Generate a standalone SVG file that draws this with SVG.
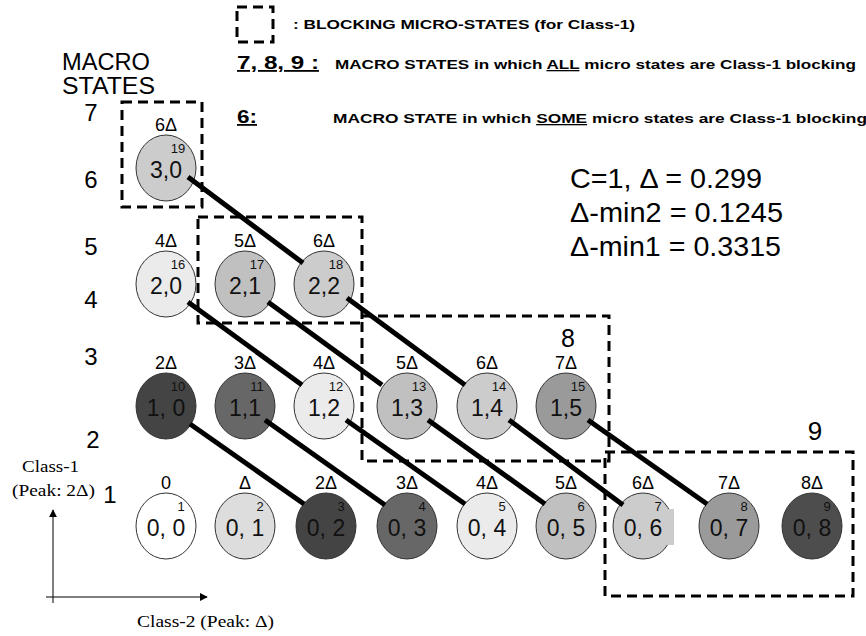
<svg xmlns="http://www.w3.org/2000/svg" width="866" height="636" viewBox="0 0 866 636">
<defs>
<style>
.n{stroke:#333;stroke-width:1}
.t{font-family:"Liberation Sans",Arial,sans-serif;font-size:23px;text-anchor:middle;fill:#111}
.k{font-family:"Liberation Sans",Arial,sans-serif;font-size:13px;text-anchor:middle;fill:#111}
.d{font-family:"Liberation Sans",Arial,sans-serif;font-size:18px;text-anchor:middle;fill:#000}
.r{font-family:"Liberation Sans",Arial,sans-serif;font-size:24px;text-anchor:middle;fill:#000}
.b{font-family:"Liberation Sans",Arial,sans-serif;font-size:13px;font-weight:bold;fill:#000}
.m{font-family:"Liberation Sans",Arial,sans-serif;font-size:28px;fill:#000}
.s{font-family:"Liberation Serif","Times New Roman",serif;font-size:16.5px;fill:#000}
.box{fill:none;stroke:#000;stroke-width:3;stroke-dasharray:10 6}
.c{stroke:#000;stroke-width:5;stroke-linecap:butt}
.ax{stroke:#000;stroke-width:1}
</style>
<marker id="ah" viewBox="0 0 10 10" refX="9" refY="5" markerWidth="8" markerHeight="8" markerUnits="userSpaceOnUse" orient="auto">
<path d="M0,0 L10,5 L0,10 z" fill="#000"/>
</marker>
</defs>
<rect width="866" height="636" fill="#fff"/>

<g id="legend">
<rect class="box" x="237" y="7" width="36" height="35"/>
<text class="b" x="293" y="29" textLength="342" lengthAdjust="spacingAndGlyphs">: BLOCKING MICRO-STATES (for Class-1)</text>
<text class="b" x="237" y="69" style="font-size:18px" textLength="82" lengthAdjust="spacingAndGlyphs" text-decoration="underline">7, 8, 9 :</text>
<text class="b" x="335" y="69" textLength="521" lengthAdjust="spacingAndGlyphs">MACRO STATES in which <tspan text-decoration="underline">ALL</tspan> micro states are Class-1 blocking</text>
<text class="b" x="237" y="123" style="font-size:18px" textLength="20" lengthAdjust="spacingAndGlyphs" text-decoration="underline">6:</text>
<text class="b" x="333" y="123" textLength="534" lengthAdjust="spacingAndGlyphs">MACRO STATE in which <tspan text-decoration="underline">SOME</tspan> micro states are Class-1 blocking</text>
</g>

<g id="params">
<text class="m" x="570" y="188" textLength="192" lengthAdjust="spacingAndGlyphs">C=1, Δ = 0.299</text>
<text class="m" x="570" y="222" textLength="213" lengthAdjust="spacingAndGlyphs">Δ-min2 = 0.1245</text>
<text class="m" x="570" y="256" textLength="211" lengthAdjust="spacingAndGlyphs">Δ-min1 = 0.3315</text>
</g>

<g id="macro-axis">
<text class="r" x="62" y="70" style="font-size:23px;text-anchor:start" textLength="88" lengthAdjust="spacingAndGlyphs">MACRO</text>
<text class="r" x="62" y="94" style="font-size:23px;text-anchor:start" textLength="93" lengthAdjust="spacingAndGlyphs">STATES</text>
<text class="r" x="91" y="121">7</text>
<text class="r" x="91" y="188">6</text>
<text class="r" x="91" y="255">5</text>
<text class="r" x="91" y="308">4</text>
<text class="r" x="91" y="365">3</text>
<text class="r" x="93" y="448">2</text>
<text class="r" x="110" y="503">1</text>
</g>

<g id="blocking-boxes">
<rect class="box" x="122" y="102" width="80" height="105"/>
<rect class="box" x="198" y="217" width="164" height="106"/>
<rect class="box" x="362" y="316" width="247" height="145"/>
<rect class="box" x="605" y="452" width="248" height="144"/>
<text class="r" x="568" y="347" style="font-size:25px">8</text>
<text class="r" x="815" y="440" style="font-size:26px">9</text>
</g>

<g id="n19"><ellipse class="n" cx="166" cy="168" rx="30" ry="33" fill="#cccccc"/><text class="d" x="166" y="131">6Δ</text><text class="k" x="178" y="153">19</text><text class="t" x="166" y="178">3,0</text></g>

<g id="n16"><ellipse class="n" cx="166" cy="284" rx="30" ry="33" fill="#ebebeb"/><text class="d" x="166" y="247">4Δ</text><text class="k" x="178" y="269">16</text><text class="t" x="166" y="294">2,0</text></g>
<g id="n17"><ellipse class="n" cx="245" cy="284" rx="30" ry="33" fill="#c0c0c0"/><text class="d" x="245" y="247">5Δ</text><text class="k" x="257" y="269">17</text><text class="t" x="245" y="294">2,1</text></g>
<g id="n18"><ellipse class="n" cx="324" cy="284" rx="30" ry="33" fill="#cccccc"/><text class="d" x="324" y="247">6Δ</text><text class="k" x="336" y="269">18</text><text class="t" x="324" y="294">2,2</text></g>

<g id="n10"><ellipse class="n" cx="166" cy="406" rx="30" ry="33" fill="#444444"/><text class="d" x="166" y="369">2Δ</text><text class="k" x="178" y="391">10</text><text class="t" x="166" y="416">1, 0</text></g>
<g id="n11"><ellipse class="n" cx="245" cy="406" rx="30" ry="33" fill="#676767"/><text class="d" x="245" y="369">3Δ</text><text class="k" x="257" y="391">11</text><text class="t" x="245" y="416">1,1</text></g>
<g id="n12"><ellipse class="n" cx="324" cy="406" rx="30" ry="33" fill="#ebebeb"/><text class="d" x="324" y="369">4Δ</text><text class="k" x="336" y="391">12</text><text class="t" x="324" y="416">1,2</text></g>
<g id="n13"><ellipse class="n" cx="407" cy="406" rx="30" ry="33" fill="#c0c0c0"/><text class="d" x="407" y="369">5Δ</text><text class="k" x="419" y="391">13</text><text class="t" x="407" y="416">1,3</text></g>
<g id="n14"><ellipse class="n" cx="487" cy="406" rx="30" ry="33" fill="#cccccc"/><text class="d" x="487" y="369">6Δ</text><text class="k" x="499" y="391">14</text><text class="t" x="487" y="416">1,4</text></g>
<g id="n15"><ellipse class="n" cx="566" cy="406" rx="30" ry="33" fill="#9a9a9a"/><text class="d" x="566" y="369">7Δ</text><text class="k" x="578" y="391">15</text><text class="t" x="566" y="416">1,5</text></g>

<g id="n1"><ellipse class="n" cx="166" cy="526" rx="30" ry="33" fill="#ffffff"/><text class="d" x="166" y="489">0</text><text class="k" x="181" y="511">1</text><text class="t" x="166" y="536">0, 0</text></g>
<g id="n2"><ellipse class="n" cx="245" cy="526" rx="30" ry="33" fill="#dddddd"/><text class="d" x="245" y="489">Δ</text><text class="k" x="260" y="511">2</text><text class="t" x="245" y="536">0, 1</text></g>
<g id="n3"><ellipse class="n" cx="326" cy="526" rx="30" ry="33" fill="#444444"/><text class="d" x="326" y="489">2Δ</text><text class="k" x="341" y="511">3</text><text class="t" x="326" y="536">0, 2</text></g>
<g id="n4"><ellipse class="n" cx="407" cy="526" rx="30" ry="33" fill="#676767"/><text class="d" x="407" y="489">3Δ</text><text class="k" x="422" y="511">4</text><text class="t" x="407" y="536">0, 3</text></g>
<g id="n5"><ellipse class="n" cx="487" cy="526" rx="30" ry="33" fill="#ebebeb"/><text class="d" x="487" y="489">4Δ</text><text class="k" x="502" y="511">5</text><text class="t" x="487" y="536">0, 4</text></g>
<g id="n6"><ellipse class="n" cx="566" cy="526" rx="30" ry="33" fill="#c0c0c0"/><text class="d" x="566" y="489">5Δ</text><text class="k" x="581" y="511">6</text><text class="t" x="566" y="536">0, 5</text></g>
<g id="n7"><ellipse class="n" cx="643" cy="526" rx="30" ry="33" fill="#cccccc"/><rect x="662" y="509" width="12" height="36" fill="#cccccc"/><text class="d" x="643" y="489">6Δ</text><text class="k" x="658" y="511">7</text><text class="t" x="643" y="536">0, 6</text></g>
<g id="n8"><ellipse class="n" cx="729" cy="526" rx="30" ry="33" fill="#9a9a9a"/><text class="d" x="729" y="489">7Δ</text><text class="k" x="744" y="511">8</text><text class="t" x="729" y="536">0, 7</text></g>
<g id="n9"><ellipse class="n" cx="812" cy="526" rx="30" ry="33" fill="#4d4d4d"/><text class="d" x="812" y="489">8Δ</text><text class="k" x="827" y="511">9</text><text class="t" x="812" y="536">0, 8</text></g>

<g id="connectors">
<line class="c" x1="188" y1="177" x2="303" y2="263"/>
<line class="c" x1="188" y1="302" x2="302" y2="385"/>
<line class="c" x1="268" y1="302" x2="382" y2="385"/>
<line class="c" x1="347" y1="298" x2="465" y2="385"/>
<line class="c" x1="190" y1="424" x2="304" y2="504"/>
<line class="c" x1="265" y1="420" x2="385" y2="505"/>
<line class="c" x1="346" y1="420" x2="465" y2="504"/>
<line class="c" x1="428" y1="420" x2="545" y2="504"/>
<line class="c" x1="509" y1="420" x2="623" y2="505"/>
<line class="c" x1="588" y1="420" x2="707" y2="504"/>
</g>

<g id="axes">
<line class="ax" x1="53" y1="603" x2="53" y2="510" marker-end="url(#ah)"/>
<line class="ax" x1="46" y1="597" x2="207" y2="597" marker-end="url(#ah)"/>
<text class="s" x="22" y="472" textLength="57" lengthAdjust="spacingAndGlyphs">Class-1</text>
<text class="s" x="12" y="496" textLength="83" lengthAdjust="spacingAndGlyphs">(Peak: 2Δ)</text>
<text class="s" x="137" y="627" textLength="137" lengthAdjust="spacingAndGlyphs">Class-2 (Peak: Δ)</text>
</g>
</svg>
